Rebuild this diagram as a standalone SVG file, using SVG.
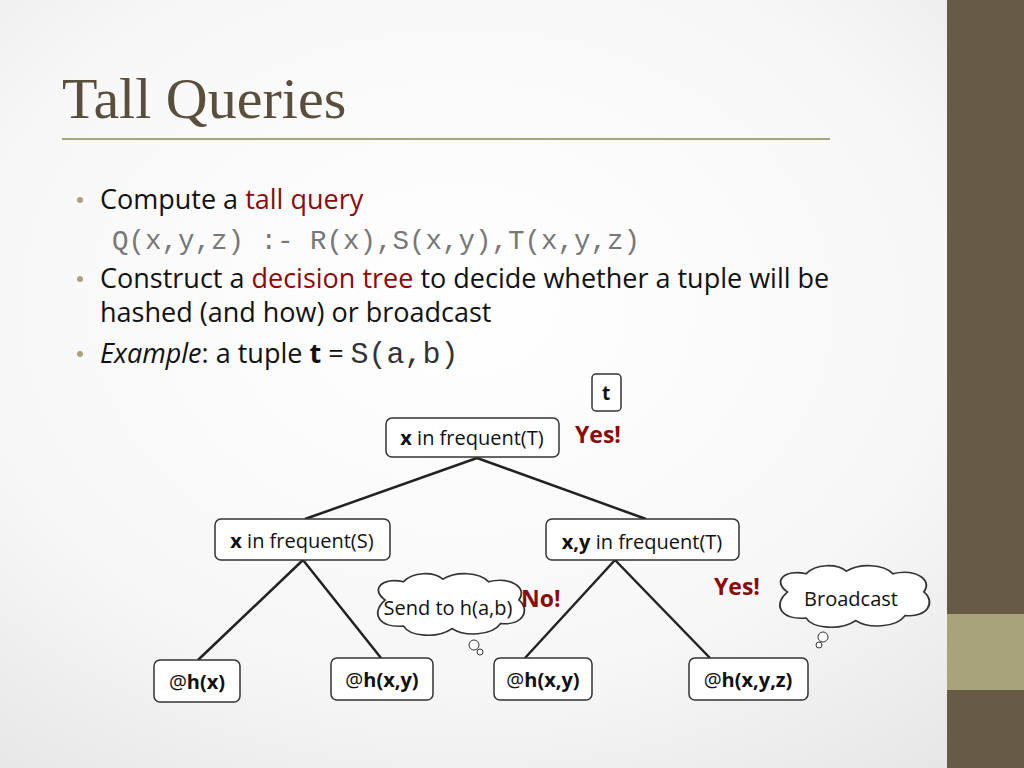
<svg xmlns="http://www.w3.org/2000/svg" width="1024" height="768" viewBox="0 0 1024 768">
<defs>
<radialGradient id="bg" cx="0.45" cy="0.4" r="0.8"><stop offset="0" stop-color="#ffffff"/><stop offset="0.6" stop-color="#f7f7f7"/><stop offset="1" stop-color="#e4e4e4"/></radialGradient>
<g id="cloud"><path d="M10,20 C0,12 8,2 22,6 C28,-2 42,-2 48,4 C56,-2 72,-2 78,6 C92,2 104,10 98,20 C106,28 100,40 86,38 C80,48 62,48 54,42 C44,50 26,48 22,40 C6,42 0,30 10,20 Z" fill="#fff" stroke="#333" stroke-width="1.2"/></g>
</defs>
<style>
.b{fill:#fff;stroke:#333;stroke-width:1.5}
.t{font-family:"Open Sans","Liberation Sans",sans-serif;fill:#111}
.m{font-family:"Liberation Mono",monospace;fill:#777}
.r{fill:#8b0a0a;font-weight:bold}
.l{stroke:#222;stroke-width:2.5;fill:none}
</style>
<rect width="1024" height="768" fill="url(#bg)"/>
<rect x="947" y="0" width="77" height="768" fill="#675b45"/>
<rect x="947" y="614" width="77" height="76" fill="#a8a37a"/>
<text x="62" y="118" font-family="Liberation Serif,serif" font-size="58" fill="#5a4f3c">Tall Queries</text>
<line x1="62" y1="139" x2="830" y2="139" stroke="#a8a37a" stroke-width="2"/>
<g font-size="27">
<circle cx="80" cy="200" r="3" fill="#a8a37a"/>
<text x="100" y="209" class="t">Compute a <tspan fill="#8b0a0a">tall query</tspan></text>
<text x="112" y="249" class="m" font-size="27.5">Q(x,y,z) :- R(x),S(x,y),T(x,y,z)</text>
<circle cx="80" cy="279" r="3" fill="#a8a37a"/>
<text x="100" y="288" class="t">Construct a <tspan fill="#8b0a0a">decision tree</tspan> to decide whether a tuple will be</text>
<text x="100" y="322" class="t">hashed (and how) or broadcast</text>
<circle cx="80" cy="354" r="3" fill="#a8a37a"/>
<text x="100" y="363" class="t"><tspan font-style="italic">Example</tspan>: a tuple <tspan font-weight="bold">t</tspan> = <tspan font-family="Liberation Mono,monospace" font-size="30" fill="#333">S(a,b)</tspan></text>
</g>
<g id="connectors" class="l">
<line x1="477" y1="458" x2="305" y2="519"/>
<line x1="477" y1="458" x2="646" y2="519"/>
<line x1="303" y1="560" x2="198" y2="660"/>
<line x1="303" y1="560" x2="381" y2="658"/>
<line x1="615" y1="560" x2="525" y2="658"/>
<line x1="615" y1="560" x2="710" y2="658"/>
</g>
<g font-size="20" class="t">
<g id="t"><rect x="592" y="374" width="29" height="37" rx="4" class="b"/><text x="606" y="400" text-anchor="middle" font-weight="bold" font-size="19">t</text></g>
<g id="n1"><rect x="386" y="418" width="173" height="39" rx="6" class="b"/><text x="472" y="445" text-anchor="middle"><tspan font-weight="bold">x</tspan> in frequent(T)</text></g>
<text x="575" y="443" class="r" font-size="23">Yes!</text>
<g id="n2"><rect x="215" y="519" width="175" height="41" rx="6" class="b"/><text x="302" y="548" text-anchor="middle"><tspan font-weight="bold">x</tspan> in frequent(S)</text></g>
<g id="n3"><rect x="546" y="519" width="193" height="41" rx="6" class="b"/><text x="642" y="549" text-anchor="middle"><tspan font-weight="bold">x,y</tspan> in frequent(T)</text></g>
<g id="c1"><use href="#cloud" transform="translate(370,574) scale(1.52,1.3)"/><circle cx="474" cy="645" r="5" fill="#fff" stroke="#333"/><circle cx="480" cy="652" r="3" fill="#fff" stroke="#333"/><text x="448" y="615" text-anchor="middle">Send to h(a,b)</text></g>
<text x="521" y="607" class="r" font-size="23">No!</text>
<text x="714" y="595" class="r" font-size="23">Yes!</text>
<g id="c2"><use href="#cloud" transform="translate(772,566) scale(1.55,1.3)"/><circle cx="823" cy="637" r="5" fill="#fff" stroke="#333"/><circle cx="819" cy="645" r="3" fill="#fff" stroke="#333"/><text x="851" y="606" text-anchor="middle">Broadcast</text></g>
<g id="l1"><rect x="154" y="660" width="86" height="42" rx="6" class="b"/><text x="197" y="689" text-anchor="middle">@<tspan font-weight="bold">h(x)</tspan></text></g>
<g id="l2"><rect x="331" y="658" width="102" height="42" rx="6" class="b"/><text x="382" y="687" text-anchor="middle">@<tspan font-weight="bold">h(x,y)</tspan></text></g>
<g id="l3"><rect x="494" y="658" width="98" height="42" rx="6" class="b"/><text x="543" y="687" text-anchor="middle">@<tspan font-weight="bold">h(x,y)</tspan></text></g>
<g id="l4"><rect x="689" y="658" width="119" height="42" rx="6" class="b"/><text x="748" y="687" text-anchor="middle">@<tspan font-weight="bold">h(x,y,z)</tspan></text></g>
</g>
</svg>
